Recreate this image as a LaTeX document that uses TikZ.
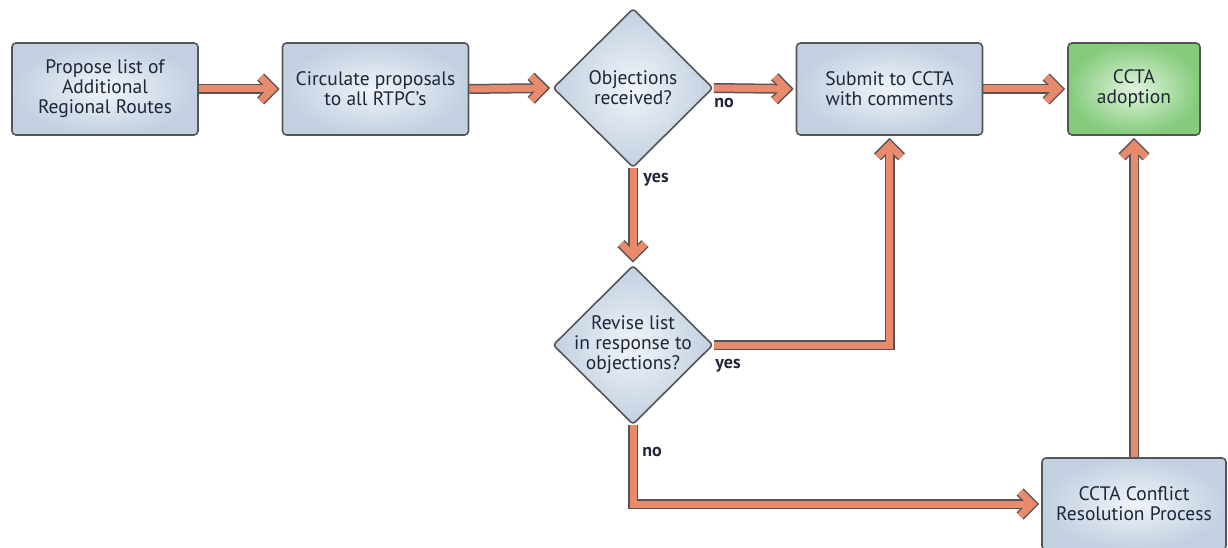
\documentclass[tikz,border=0pt]{standalone}
\usepackage{fontspec}
\setmainfont{PT Sans}
\usetikzlibrary{shapes.geometric,arrows.meta}
\pgfdeclarelayer{bg}
\pgfdeclarelayer{paper}
\pgfsetlayers{paper,bg,main}
\definecolor{salmon}{HTML}{E98A6C}
\definecolor{edge}{HTML}{555555}
\definecolor{boxin}{HTML}{F0F4F9}
\definecolor{boxout}{HTML}{C2D0E1}
\definecolor{grin}{HTML}{E2F4DD}
\definecolor{grout}{HTML}{84CB7C}
\definecolor{ink}{HTML}{1E2638}
\newcommand\flowline[1]{%
  \begin{pgfonlayer}{bg}
  \draw[conout] #1;
  \draw[conin] #1;
  \end{pgfonlayer}}
\begin{document}
\begin{tikzpicture}[x=1pt,y=-1pt,
  mainfont/.style={font=\fontsize{19.5}{20}\selectfont},
  box/.style={draw=edge, line width=1.6pt, rounded corners=4pt,
    minimum width=186pt, minimum height=92pt, inner color=boxin, outer color=boxout,
    text=ink, align=center, mainfont},
  greenbox/.style={box, inner color=grin, outer color=grout, minimum width=132pt},
  decision/.style={diamond, draw=edge, line width=1.6pt, rounded corners=3pt,
    minimum width=160pt, minimum height=159pt, inner sep=0pt,
    inner color=boxin, outer color=boxout},
  dtext/.style={text=ink, align=center, mainfont, inner sep=0pt},
  lab/.style={text=ink, font=\fontsize{18}{20}\selectfont\bfseries, inner sep=0pt},
  conout/.style={draw=edge, line width=10pt, -{Straight Barb[length=12pt,width=24pt]}, shorten >=2pt},
  conin/.style={draw=salmon, line width=7pt, -{Straight Barb[length=12pt,width=24pt]}, shorten >=4.2pt}]
\useasboundingbox (0,0) rectangle (1228,548);
\clip (0,0) rectangle (1228,548);
\begin{pgfonlayer}{paper}
\fill[white] (0,0) rectangle (1228,548);
\end{pgfonlayer}

\node[box] (propose) at (105,89) {Propose list of\\Additional\\Regional Routes};
\node[box] (circ) at (375.5,89) {Circulate proposals\\to all RTPC’s};
\node[box] (submit) at (889.5,89) {Submit to CCTA\\with comments};
\node[greenbox] (adopt) at (1134,89) {CCTA\\adoption};
\node[box, minimum width=184pt] (conflict) at (1134,504) {CCTA Conflict\\Resolution Process};

\node[decision] (obj) at (633,88) {};
\node[dtext] (objt) at (633,88) {Objections\\received?};
\node[decision] (rev) at (633,345) {};
\node[dtext] (revt) at (633,345) {Revise list\\in response to\\objections?};

\node[lab] (lno1) at (724,103) {no};
\node[lab] (lyes1) at (656,180) {yes};
\node[lab] (lyes2) at (728,366) {yes};
\node[lab] (lno2) at (652,452) {no};

\flowline{(propose.east) -- (circ.west)}
\flowline{(circ.east) -- (obj.west)}
\flowline{(obj.east) -- (submit.west)}
\flowline{(submit.east) -- (adopt.west)}
\flowline{(obj.south) -- (rev.north)}
\flowline{(rev.east) -| (submit.south)}
\flowline{(rev.south) |- (conflict.west)}
\flowline{(conflict.north) -- (adopt.south)}
\end{tikzpicture}
\end{document}
